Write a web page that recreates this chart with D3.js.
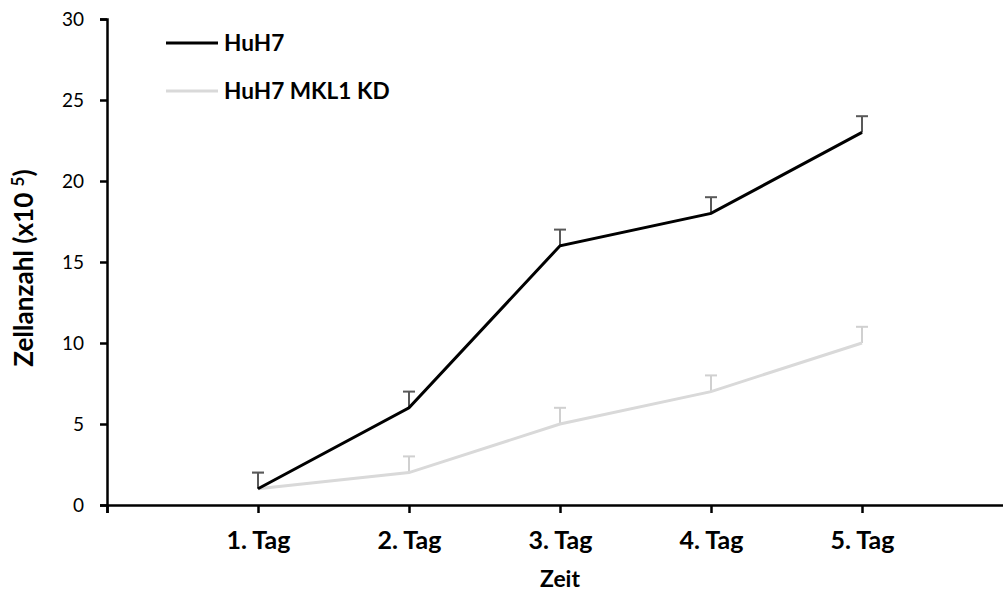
<!DOCTYPE html>
<html>
<head>
<meta charset="utf-8">
<script src="https://cdn.jsdelivr.net/npm/d3@7"></script>
<style>
  body { margin: 0; background: #fff; }
  text { font-family: Lato, "Open Sans", sans-serif; }
</style>
</head>
<body>
<div id="chart"></div>
<script>
// data
var days = ["1. Tag", "2. Tag", "3. Tag", "4. Tag", "5. Tag"];
var huh7 = [1, 6, 16, 18, 23];
var huh7Err = [1, 1, 1, 1, 1];
var huh7Kd = [1, 2, 5, 7, 10];
var huh7KdErr = [1, 1, 1, 1, 1];
var yTicks = [0, 5, 10, 15, 20, 25, 30];

var svgWidth = 1003;
var svgHeight = 591;

var svg = d3.select("#chart")
            .append("svg")
            .attr("width", svgWidth)
            .attr("height", svgHeight);

// scale font so that one sample text gets the width seen in the picture
function fitFont(sel, sampleNode, target) {
  var size = parseFloat(sel.style("font-size"));
  var w = sampleNode.getComputedTextLength();
  sel.style("font-size", (size * target / w).toFixed(1) + "px");
}

// x: index 0 = axis start, categories at 1..5
var x = d3.scaleLinear()
          .domain([0, 6])
          .range([107, 1013]);

var y = d3.scaleLinear()
          .domain([0, 30])
          .range([505, 19]);

var leftAxis = d3.axisLeft(y).tickValues(yTicks).tickSize(7).tickPadding(16);
var bottomAxis = d3.axisBottom(x)
                   .tickValues([0, 1, 2, 3, 4, 5])
                   .tickFormat(d => d === 0 ? "" : days[d - 1])
                   .tickSize(8);

var gx = svg.append("g")
    .attr("transform", "translate(0," + y(0) + ")")
    .call(bottomAxis);
gx.select(".domain").attr("stroke", "#000").attr("stroke-width", 2.5);
gx.selectAll(".tick line").attr("stroke", "#000").attr("stroke-width", 2.5);
var xt = gx.selectAll(".tick text")
  .attr("fill", "#000")
  .attr("y", 44).attr("dy", null)
  .style("font-size", "22px")
  .style("font-weight", "bold");
fitFont(xt, xt.filter(d => d === 1).node(), 64);

var gy = svg.append("g")
    .attr("transform", "translate(" + x(0) + ",0)")
    .call(leftAxis);
gy.select(".domain").attr("stroke", "#000").attr("stroke-width", 2.5);
gy.selectAll(".tick line").attr("stroke", "#000").attr("stroke-width", 2.5);
var yt = gy.selectAll(".tick text")
  .attr("fill", "#000")
  .style("font-size", "20px");
fitFont(yt, yt.filter(d => d === 25).node(), 22);

// error bars (upper only)
function errorBars(vals, errs, color) {
  var g = svg.append("g");
  vals.forEach(function(v, i) {
    var cx = x(i + 1);
    g.append("line")
     .attr("x1", cx).attr("x2", cx)
     .attr("y1", y(v)).attr("y2", y(v + errs[i]))
     .attr("stroke", color).attr("stroke-width", 2);
    g.append("line")
     .attr("x1", cx - 6).attr("x2", cx + 6)
     .attr("y1", y(v + errs[i])).attr("y2", y(v + errs[i]))
     .attr("stroke", color).attr("stroke-width", 2);
  });
}

var line = d3.line()
             .x((d, i) => x(i + 1))
             .y(d => y(d));

errorBars(huh7Kd, huh7KdErr, "#d0d0d0");
svg.append("path")
   .datum(huh7Kd)
   .attr("d", line)
   .attr("fill", "none")
   .attr("stroke", "#d9d9d9")
   .attr("stroke-width", 3);

errorBars(huh7, huh7Err, "#595959");
svg.append("path")
   .datum(huh7)
   .attr("d", line)
   .attr("fill", "none")
   .attr("stroke", "#000")
   .attr("stroke-width", 3);

// legend
var legend = [
  {name: "HuH7", color: "#000", y: 43},
  {name: "HuH7 MKL1 KD", color: "#d9d9d9", y: 91}
];
var lg = svg.append("g");
legend.forEach(function(l) {
  lg.append("line")
     .attr("x1", 166).attr("x2", 218)
     .attr("y1", l.y).attr("y2", l.y)
     .attr("stroke", l.color).attr("stroke-width", 3);
  lg.append("text")
     .attr("x", 224).attr("y", l.y + 8)
     .style("font-size", "22px")
     .style("font-weight", "bold")
     .text(l.name);
});
var lt = lg.selectAll("text");
fitFont(lt, lt.nodes()[1], 166);

// axis titles
var xl = svg.append("text")
   .attr("x", x(3)).attr("y", 587)
   .attr("text-anchor", "middle")
   .style("font-size", "22px")
   .style("font-weight", "bold")
   .text("Zeit");
fitFont(xl, xl.node(), 40);

var yl = svg.append("text")
   .attr("transform", "translate(33,268) rotate(-90)")
   .attr("text-anchor", "middle")
   .style("font-size", "22px")
   .style("font-weight", "bold");
yl.append("tspan").text("Zellanzahl (x10 ");
yl.append("tspan").attr("dy", -9).style("font-size", "0.65em").text("5");
yl.append("tspan").attr("dy", 9).text(")");
fitFont(yl, yl.node(), 197);
</script>
</body>
</html>
